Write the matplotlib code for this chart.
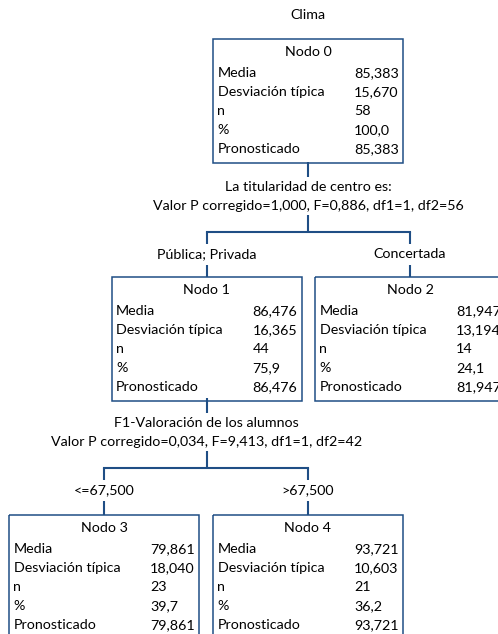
import matplotlib
matplotlib.use("Agg")
import matplotlib.pyplot as plt
from matplotlib.patches import Rectangle

# ---- data ----
title = "Clima"
node_names = ["Nodo 0", "Nodo 1", "Nodo 2", "Nodo 3", "Nodo 4"]
media = [85.383, 86.476, 81.947, 79.861, 93.721]
desv = [15.670, 16.365, 13.194, 18.040, 10.603]
n_vals = [58, 44, 14, 23, 21]
pct = [100.0, 75.9, 24.1, 39.7, 36.2]
pron = [85.383, 86.476, 81.947, 79.861, 93.721]
row_labels = ["Media", "Desviación típica", "n", "%", "Pronosticado"]
split_vars = ["La titularidad de centro es:", "F1-Valoración de los alumnos"]
split_stats = ["Valor P corregido=1,000, F=0,886, df1=1, df2=56",
               "Valor P corregido=0,034, F=9,413, df1=1, df2=42"]
branch_labels = [["Pública; Privada", "Concertada"], ["<=67,500", ">67,500"]]

def fmt(v, d):
    return f"{v:.{d}f}".replace(".", ",")

# ---- layout (pixels) ----
W, H = 498, 634
C = "#1F4E85"
FONT = "Lato"
FS = 10.3
box_w, box_h = 190, 124
node_xc = [308, 206.5, 410, 104, 308]
node_top = [39, 277, 277, 515, 515]

fig = plt.figure(figsize=(W / 100, H / 100), dpi=100)
ax = fig.add_axes([0, 0, 1, 1])
ax.set_xlim(0, W)
ax.set_ylim(H, 0)
ax.axis("off")

ax.text(308, 15, title, ha="center", va="center", fontsize=FS, family=FONT)

def draw_node(i):
    xc, top = node_xc[i], node_top[i]
    left = xc - box_w / 2
    ax.add_patch(Rectangle((left, top), box_w, box_h, fill=False,
                           edgecolor=C, linewidth=1.1, clip_on=True))
    ax.text(xc, top + 12.5, node_names[i], ha="center", va="center",
            fontsize=FS, family=FONT)
    vals = [fmt(media[i], 3), fmt(desv[i], 3), str(n_vals[i]),
            fmt(pct[i], 1), fmt(pron[i], 3)]
    for r, (lab, v) in enumerate(zip(row_labels, vals)):
        y = top + 34 + r * 19
        ax.text(left + 4.5, y, lab, ha="left", va="center", fontsize=FS, family=FONT)
        ax.text(left + 141, y, v, ha="left", va="center", fontsize=FS, family=FONT)

for i in range(5):
    draw_node(i)

LW = 1.5

def draw_split(parent, kids, k):
    xc = node_xc[parent]
    bottom = node_top[parent] + box_h - 1
    if parent == 1:
        bottom = 398
    ax.plot([xc, xc], [bottom, bottom + 15], color=C, lw=LW, solid_capstyle="butt")
    ax.text(xc, bottom + 25, split_vars[k], ha="center", va="center", fontsize=FS, family=FONT)
    ax.text(xc, bottom + 44, split_stats[k], ha="center", va="center", fontsize=FS, family=FONT)
    hy = bottom + 70
    ax.plot([xc, xc], [bottom + 53, hy], color=C, lw=LW, solid_capstyle="butt")
    xl, xr = node_xc[kids[0]], node_xc[kids[1]]
    ax.plot([xl, xr], [hy, hy], color=C, lw=LW, solid_capstyle="projecting")
    for j, kid in enumerate(kids):
        kx = node_xc[kid]
        ax.plot([kx, kx], [hy, hy + 12], color=C, lw=LW, solid_capstyle="butt")
        ax.text(kx, hy + 22, branch_labels[k][j], ha="center", va="center",
                fontsize=FS, family=FONT)
        ax.plot([kx, kx], [hy + 33, node_top[kid]], color=C, lw=LW, solid_capstyle="butt")

draw_split(0, [1, 2], 0)
draw_split(1, [3, 4], 1)

fig.savefig("out.png", dpi=100)
